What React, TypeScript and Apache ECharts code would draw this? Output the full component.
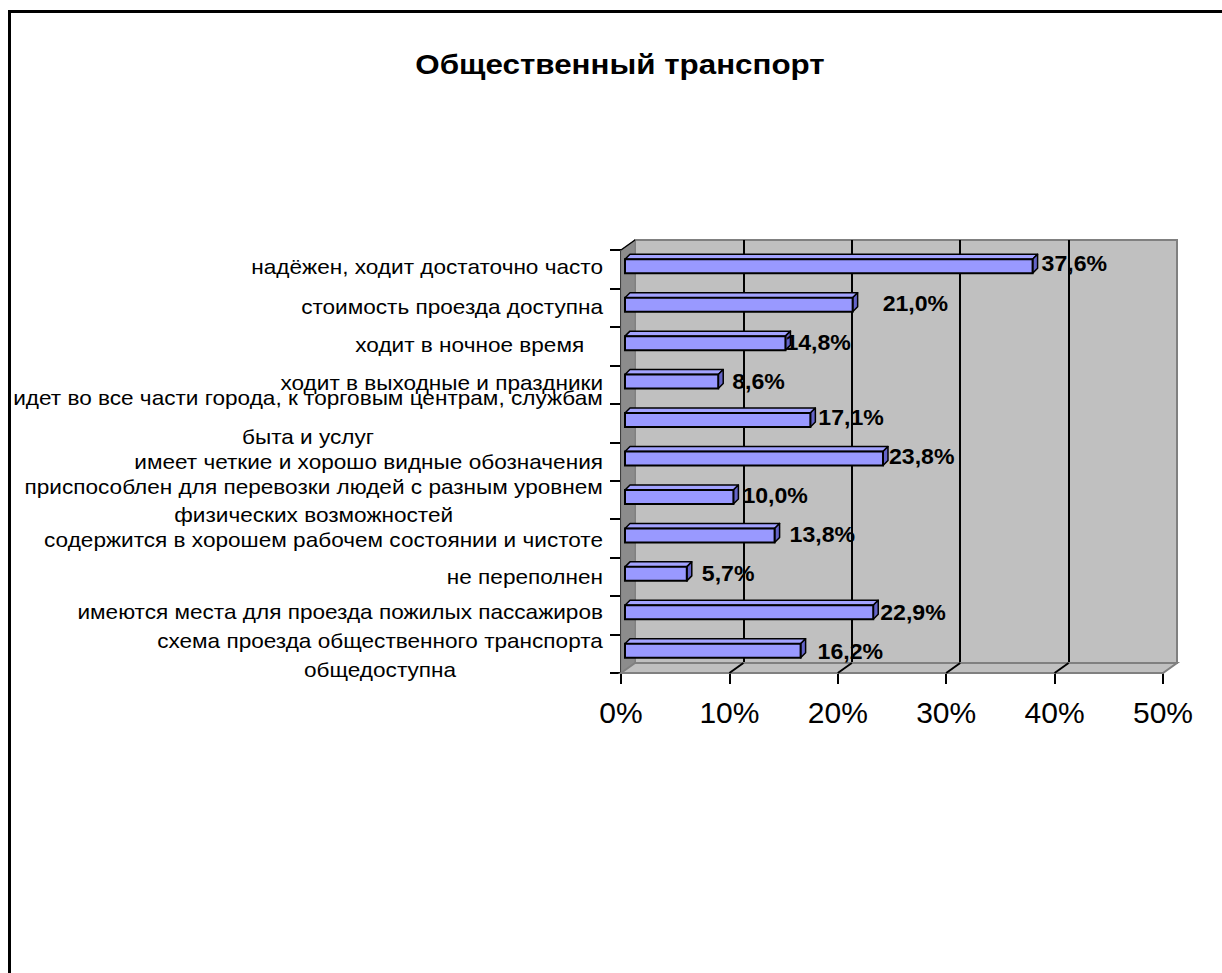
import React, { useEffect, useRef } from "react";
import * as echarts from "echarts";

const chartTitle = "Общественный транспорт";
const categories = [
  "надёжен, ходит достаточно часто",
  "стоимость проезда доступна",
  "ходит в ночное время   ",
  "ходит в выходные и праздники",
  "идет во все части города, к торговым центрам, службам\nбыта и услуг",
  "имеет четкие и хорошо видные обозначения",
  "приспособлен для перевозки людей с разным уровнем\nфизических возможностей",
  "содержится в хорошем рабочем состоянии и чистоте",
  "не переполнен",
  "имеются места для проезда пожилых пассажиров",
  "схема проезда общественного транспорта\nобщедоступна",
];
const values = [37.6, 21.0, 14.8, 8.6, 17.1, 23.8, 10.0, 13.8, 5.7, 22.9, 16.2];
const axisMin = 0;
const axisMax = 50;
const axisStep = 10;

// label nudges (Excel placed the value labels irregularly)
const labelShiftX = [4, 25, -5, 9, 3, 1, 4, 10, 10, 2, 12];
const labelShiftY = [-3, -1, 0, 0, -2, -2, -1, -1, 0, 0, 1];
const catLineHeight = [28, 28, 28, 28, 39, 28, 28, 28, 28, 28, 29];
const catShiftY = [-2, 0, -1, -1, -5, 1, 1, 2, 1, -3, 2];

const FONT = '"Liberation Sans", Arial, sans-serif';
const CAT_SIZE = 20;
const CAT_STRETCH = 1.13;

// layout of the 3D box
const L = 621;
const R = 1163;
const T = 250;
const B = 673;
const DX = 14;
const DY = -10;
const LABEL_GAP = 18;

function measure(text: string, font: string): number {
  const c = document.createElement("canvas").getContext("2d");
  if (!c) return text.length * 11;
  c.font = font;
  return c.measureText(text).width;
}

export default function App() {
  const ref = useRef<HTMLDivElement>(null);
  useEffect(() => {
    if (!ref.current) return;
    const chart = echarts.init(ref.current, undefined, { renderer: "svg" });

    const catWidths = categories.map((c) =>
      Math.max(...c.split("\n").map((l) => measure(l, `${CAT_SIZE}px ${FONT}`)))
    );

    const floorLines: any[] = [];
    const nTicks = (axisMax - axisMin) / axisStep;
    for (let k = 1; k < nTicks; k++) {
      const x = L + ((R - L) * k) / nTicks;
      floorLines.push({
        type: "line",
        z: 1,
        shape: { x1: x, y1: B, x2: x + DX, y2: B + DY },
        style: { stroke: "#000", lineWidth: 2 },
      });
    }

    chart.setOption({
      animation: false,
      backgroundColor: "#fff",
      grid: [
        { left: L, top: T, width: R - L, height: B - T, show: false },
        {
          left: L + DX,
          top: T + DY,
          width: R - L,
          height: B - T,
          show: true,
          backgroundColor: "#c0c0c0",
          borderColor: "#808080",
          borderWidth: 2,
        },
      ],
      xAxis: [
        {
          type: "value",
          gridIndex: 0,
          min: axisMin,
          max: axisMax,
          interval: axisStep,
          axisLine: { show: true, lineStyle: { color: "#000", width: 2 } },
          axisTick: { show: true, length: 11, lineStyle: { color: "#000", width: 2 } },
          splitLine: { show: false },
          axisLabel: {
            formatter: "{value}%",
            fontSize: 30,
            fontFamily: FONT,
            color: "#000",
            margin: 24,
          },
        },
        {
          type: "value",
          gridIndex: 1,
          min: axisMin,
          max: axisMax,
          interval: axisStep,
          axisLine: { show: false },
          axisTick: { show: false },
          axisLabel: { show: false },
          splitLine: {
            show: true,
            showMinLine: false,
            showMaxLine: false,
            lineStyle: { color: "#000", width: 2 },
          },
        },
      ],
      yAxis: [
        {
          type: "category",
          gridIndex: 0,
          data: categories,
          inverse: true,
          boundaryGap: true,
          axisLine: { show: true, lineStyle: { color: "#000", width: 2 } },
          axisTick: { show: true, length: 11, lineStyle: { color: "#000", width: 2 } },
          splitLine: { show: false },
          axisLabel: { show: false },
        },
        { type: "value", gridIndex: 1, show: false, min: 0, max: 1 },
      ],
      graphic: [
        {
          type: "text",
          x: 620,
          y: 64,
          z: 5,
          scaleX: 1.12,
          style: {
            text: chartTitle,
            fontSize: 28,
            fontWeight: "bold",
            fontFamily: FONT,
            fill: "#000",
            align: "center",
            verticalAlign: "middle",
          },
        },
        {
          type: "polygon",
          z: 1,
          shape: { points: [[L, T], [L + DX, T + DY], [L + DX, B + DY], [L, B]] },
          style: { fill: "#8c8c8c", stroke: "#808080", lineWidth: 1 },
        },
        {
          type: "line",
          z: 1,
          shape: { x1: L, y1: T, x2: L + DX, y2: T + DY },
          style: { stroke: "#000", lineWidth: 1.5 },
        },
        {
          type: "polygon",
          z: 1,
          shape: { points: [[L, B], [L + DX, B + DY], [R + DX, B + DY], [R, B]] },
          style: { fill: "#c0c0c0", stroke: "#808080", lineWidth: 2 },
        },
        ...floorLines,
        {
          type: "rect",
          z: 10,
          shape: { x: 9.5, y: 11.5, width: 1400, height: 1300 },
          style: { fill: "none", stroke: "#000", lineWidth: 3 },
        },
      ],
      series: [
        {
          // category labels, centred line by line like the original
          type: "custom",
          xAxisIndex: 0,
          yAxisIndex: 0,
          z: 4,
          silent: true,
          data: categories.map((c, i) => [0, i]),
          renderItem: (params: any, api: any) => {
            const idx = api.value(1);
            const p = api.coord([0, idx]);
            const text = categories[idx];
            const multi = text.indexOf("\n") >= 0;
            const right = p[0] - LABEL_GAP;
            return {
              type: "text",
              x: multi ? right - (catWidths[idx] * CAT_STRETCH) / 2 : right,
              y: p[1] + catShiftY[idx],
              scaleX: CAT_STRETCH,
              style: {
                text,
                fontSize: CAT_SIZE,
                fontFamily: FONT,
                fill: "#000",
                align: multi ? "center" : "right",
                verticalAlign: "middle",
                lineHeight: catLineHeight[idx],
              },
            };
          },
        },
        {
          type: "custom",
          xAxisIndex: 0,
          yAxisIndex: 0,
          z: 5,
          data: values.map((v, i) => [v, i]),
          renderItem: (params: any, api: any) => {
            const v = api.value(0);
            const idx = api.value(1);
            const p0 = api.coord([0, idx]);
            const p1 = api.coord([v, idx]);
            const x0 = p0[0] + 4;
            const x1 = p1[0] + 4;
            const yc = p0[1] - 3;
            const yT = yc - 7;
            const yB = yc + 7;
            const d = 5;
            const txt = v.toFixed(1).replace(".", ",") + "%";
            return {
              type: "group",
              children: [
                {
                  type: "polygon",
                  shape: { points: [[x0, yT], [x1, yT], [x1 + d, yT - d], [x0 + d, yT - d]] },
                  style: { fill: "#a3a3ff", stroke: "#000", lineWidth: 1.5, lineJoin: "round" },
                },
                {
                  type: "polygon",
                  shape: { points: [[x1, yT], [x1 + d, yT - d], [x1 + d, yB - d], [x1, yB]] },
                  style: { fill: "#6464c8", stroke: "#000", lineWidth: 1.5, lineJoin: "round" },
                },
                {
                  type: "rect",
                  shape: { x: x0, y: yT, width: x1 - x0, height: yB - yT },
                  style: { fill: "#9999ff", stroke: "#000", lineWidth: 2 },
                },
                {
                  type: "text",
                  x: x1 + d + labelShiftX[idx],
                  y: yc + labelShiftY[idx],
                  scaleX: 1.05,
                  style: {
                    text: txt,
                    fontSize: 22,
                    fontWeight: "bold",
                    fontFamily: FONT,
                    fill: "#000",
                    align: "left",
                    verticalAlign: "middle",
                  },
                },
              ],
            };
          },
        },
      ],
    });
    return () => chart.dispose();
  }, []);
  return (
    <div
      ref={ref}
      style={{ position: "absolute", left: 0, top: 0, width: 1222, height: 973 }}
    />
  );
}
